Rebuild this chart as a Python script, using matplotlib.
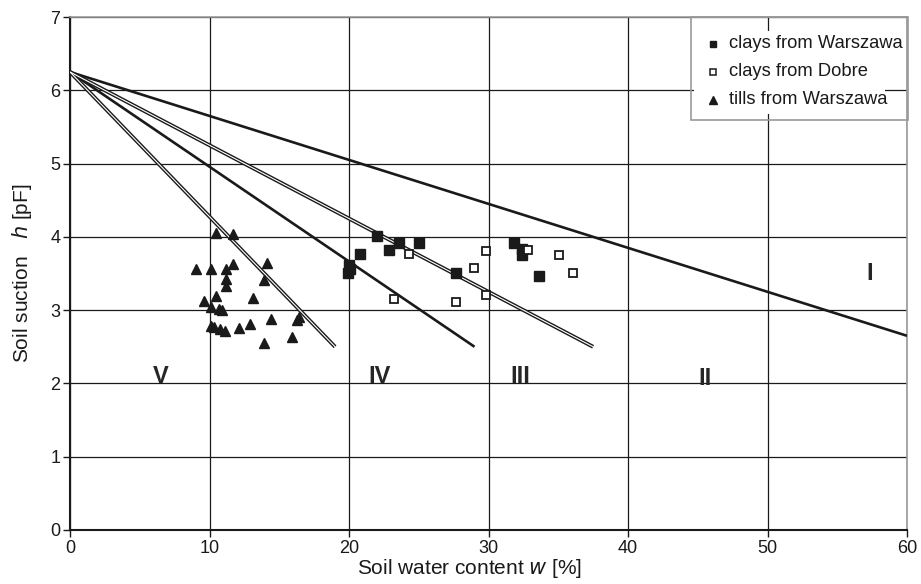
import matplotlib
matplotlib.use("Agg")
import matplotlib.pyplot as plt
from matplotlib.patches import Rectangle

plt.rcParams['font.family'] = ['Liberation Sans', 'DejaVu Sans']

# Data
clay_wa_w = [22.0, 23.6, 25.0, 22.9, 20.8, 20.0, 19.95, 20.1, 27.7, 31.8, 32.4, 32.4, 33.6]
clay_wa_h = [4.01, 3.92, 3.91, 3.82, 3.76, 3.62, 3.51, 3.56, 3.51, 3.91, 3.84, 3.75, 3.46]

clay_do_w = [24.3, 29.8, 28.95, 32.85, 35.05, 36.05, 23.2, 27.65, 29.8]
clay_do_h = [3.77, 3.81, 3.57, 3.82, 3.75, 3.51, 3.15, 3.11, 3.21]

till_w = [10.45, 11.7, 9.0, 10.1, 11.2, 11.7, 14.1, 11.2, 11.2, 13.9, 10.5, 9.6, 13.1,
          10.1, 10.7, 10.9, 14.4, 16.4, 16.3, 10.1, 10.35, 10.75, 11.1, 12.1, 12.9, 13.9, 15.9]
till_h = [4.05, 4.04, 3.56, 3.56, 3.56, 3.63, 3.65, 3.43, 3.33, 3.41, 3.19, 3.13, 3.17,
          3.04, 3.02, 3.0, 2.88, 2.9, 2.86, 2.79, 2.77, 2.74, 2.71, 2.75, 2.81, 2.55, 2.63]

series_labels = ['clays from Warszawa', 'clays from Dobre', 'tills from Warszawa']

# Boundary lines (start and end points)
line_start = (0, 6.25)
line_ends_w = [60, 37.5, 29, 19]
line_ends_h = [2.65, 2.5, 2.5, 2.5]
line_double = [False, True, False, True]

zone_labels = ['I', 'II', 'III', 'IV', 'V']
zone_w = [57.3, 45.5, 32.3, 22.2, 6.5]
zone_h = [3.5, 2.07, 2.1, 2.1, 2.1]

x_ticks = [0, 10, 20, 30, 40, 50, 60]
y_ticks = [0, 1, 2, 3, 4, 5, 6, 7]

W, H = 921, 584
AX_L, AX_R, AX_T, AX_B = 70, 907, 17, 530

def ax_xy(px, py):
    return (px - AX_L) / (AX_R - AX_L), (AX_B - py) / (AX_B - AX_T)

fig = plt.figure(figsize=(W / 100, H / 100), dpi=100)
ax = fig.add_axes([AX_L / W, (H - AX_B) / H, (AX_R - AX_L) / W, (AX_B - AX_T) / H])
ax.set_xlim(0, 60)
ax.set_ylim(0, 7)
ax.set_xticks(x_ticks)
ax.set_yticks(y_ticks)
ax.grid(True, color='#1a1a1a', lw=0.9)
ax.set_axisbelow(True)
for s in ['top', 'right']:
    ax.spines[s].set_color('#999999')
    ax.spines[s].set_linewidth(1.2)
for s in ['left', 'bottom']:
    ax.spines[s].set_color('#1a1a1a')
    ax.spines[s].set_linewidth(1.5)
ax.tick_params(axis='both', direction='out', length=5, width=1, labelsize=13, colors='#1a1a1a', pad=2)

for we, he, dbl in zip(line_ends_w, line_ends_h, line_double):
    xs = [line_start[0], we]
    ys = [line_start[1], he]
    if dbl:
        ax.plot(xs, ys, color='#1a1a1a', lw=2.8, solid_capstyle='butt', zorder=3)
        ax.plot(xs, ys, color='white', lw=0.8, solid_capstyle='butt', zorder=3.1)
    else:
        ax.plot(xs, ys, color='#1a1a1a', lw=1.9, solid_capstyle='butt', zorder=3)

ax.plot(clay_wa_w, clay_wa_h, 's', color='#1a1a1a', ms=6.8, zorder=4)
ax.plot(clay_do_w, clay_do_h, 's', mfc='white', mec='#1a1a1a', mew=1.3, ms=6.2, zorder=4)
ax.plot(till_w, till_h, '^', color='#1a1a1a', ms=7.2, zorder=4)

for t, xw, yh in zip(zone_labels, zone_w, zone_h):
    ax.text(xw, yh, t, fontsize=17, fontweight='bold', color='#262626', ha='center', va='center', zorder=5)

ax.set_xlabel('Soil water content $w$ [%]', fontsize=15, color='#1a1a1a')
ax.xaxis.set_label_coords((470 - AX_L) / (AX_R - AX_L), -27 / (AX_B - AX_T))
ax.set_ylabel('Soil suction   $h$ [pF]', fontsize=15, color='#1a1a1a')
ax.yaxis.set_label_coords(-36 / (AX_R - AX_L), 0.5)

# Legend (drawn manually to match the reference's layout)
x0, y0 = ax_xy(691, 120)
x1, y1 = ax_xy(908, 17)
ax.add_patch(Rectangle((x0, y0), x1 - x0, y1 - y0, transform=ax.transAxes, facecolor='none',
                       edgecolor='#999999', lw=1.2, zorder=6, clip_on=False))
wx0, wy0 = ax_xy(694, 114)
wx1, wy1 = ax_xy(885, 31)
ax.add_patch(Rectangle((wx0, wy0), wx1 - wx0, wy1 - wy0, transform=ax.transAxes, facecolor='white',
                       edgecolor='none', zorder=5.5))
leg_styles = [dict(marker='s', color='#1a1a1a', ms=5),
              dict(marker='s', mfc='white', mec='#1a1a1a', mew=1.1, ms=4.6),
              dict(marker='^', color='#1a1a1a', ms=5.6)]
leg_rows = [44, 72, 100]
for lab, st, py in zip(series_labels, leg_styles, leg_rows):
    mx, my = ax_xy(713, py)
    ax.plot([mx], [my], linestyle='none', transform=ax.transAxes, zorder=7, clip_on=False, **st)
    tx, ty = ax_xy(729, py)
    ax.text(tx, ty, lab, transform=ax.transAxes, fontsize=13.2, color='#1a1a1a',
            ha='left', va='center', zorder=7)

fig.savefig('out.png', dpi=100)
